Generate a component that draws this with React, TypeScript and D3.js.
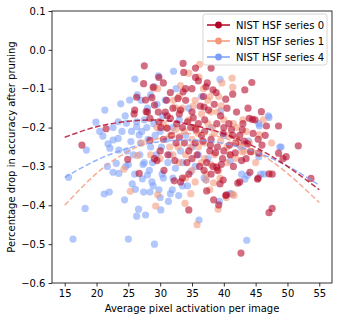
import React, { useRef, useEffect } from "react";
import * as d3 from "d3";

// scatter points [activation, drop]
const series0 = [
  [27.5,-0.041],[17.7,-0.245],[21.5,-0.203],[26.0,-0.155],[25.9,-0.165],[27.7,-0.129],[28.7,-0.123],[27.4,-0.087],
  [28.9,-0.096],[29.8,-0.071],[30.5,-0.085],[29.1,-0.142],[28.0,-0.16],[30.1,-0.2],[31.1,-0.17],[31.6,-0.11],
  [33.6,-0.035],[33.7,-0.058],[33.6,-0.108],[26.3,-0.122],[32.8,-0.125],[35.55,-0.047],[38.0,-0.047],[35.55,-0.071],
  [44.4,-0.084],[43.3,-0.103],[40.3,-0.127],[41.4,-0.114],[37.4,-0.085],[38.3,-0.103],[36.9,-0.147],[45.9,-0.159],
  [44.5,-0.179],[48.6,-0.196],[51.7,-0.247],[49.8,-0.275],[43.7,-0.242],[41.4,-0.22],[42.9,-0.206],[53.7,-0.331],
  [44.1,-0.315],[47.1,-0.319],[45.3,-0.333],[42.2,-0.343],[40.3,-0.375],[38.4,-0.386],[39.2,-0.399],[39.4,-0.345],
  [39.0,-0.31],[38.3,-0.3],[37.3,-0.363],[34.5,-0.412],[42.7,-0.523],[47.1,-0.419],[47.6,-0.408],[33.5,-0.33],
  [32.2,-0.337],[40.4,-0.373],[26.7,-0.318],[29.1,-0.28],[30.6,-0.31],[27.8,-0.159],[29.7,-0.16],[31.6,-0.176],
  [33.2,-0.155],[28.4,-0.176],[29.8,-0.185],[31.1,-0.202],[33.0,-0.225],[28.4,-0.233],[24.9,-0.282],[29.5,-0.285],
  [31.2,-0.27],[32.3,-0.285],[33.2,-0.34],[44.0,-0.176],[44.9,-0.18],[46.7,-0.196],[45.4,-0.23],[48.6,-0.266],
  [49.3,-0.28],[45.5,-0.266],[44.2,-0.262],[43.2,-0.235],[41.9,-0.24],[41.0,-0.27],[39.6,-0.295],[38.9,-0.302],
  [37.3,-0.29],[39.9,-0.335],[45.4,-0.33],[47.6,-0.32],[42.5,-0.34],[34.5,-0.32],[34.0,-0.13],[35.0,-0.16],
  [36.0,-0.19],[37.0,-0.21],[38.0,-0.23],[39.0,-0.25],[40.0,-0.26],[36.5,-0.22],[35.5,-0.24],[34.5,-0.26],
  [33.5,-0.2],[32.0,-0.15],[35.0,-0.1],[36.8,-0.12],[39.5,-0.17],[40.8,-0.19],[42.0,-0.16],[38.5,-0.14],
  [35.8,-0.27],[37.8,-0.26],[41.5,-0.3],[43.5,-0.28],[36.2,-0.3],[34.2,-0.29],[30.5,-0.23],[32.5,-0.24],
  [40.0,-0.2],[42.5,-0.22],[37.0,-0.18],[34.8,-0.2],[38.8,-0.11],[36.0,-0.08],[31.0,-0.13],[30.0,-0.26],[43.0,-0.19],
  [33.0,-0.165],[34.3,-0.185],[35.6,-0.205],[36.7,-0.235],[37.9,-0.245],[38.7,-0.265],[39.8,-0.28],[40.9,-0.245],
  [41.8,-0.265],[42.8,-0.285],[44.6,-0.215],[46.0,-0.245],[35.2,-0.175],[36.3,-0.145],[37.6,-0.155],[38.9,-0.19],
  [39.9,-0.215],[41.2,-0.205],[32.6,-0.19],[31.8,-0.22],[33.8,-0.24],[35.0,-0.28],[36.9,-0.31],[38.0,-0.32],
  [34.0,-0.1],[37.2,-0.095],[40.5,-0.15],[43.8,-0.15],[46.5,-0.22],[30.8,-0.16],
];

const series1 = [
  [29.6,-0.1],[28.96,-0.099],[33.2,-0.092],[32.1,-0.13],[36.2,-0.037],[36.1,-0.07],[41.3,-0.073],[39.7,-0.085],
  [41.4,-0.096],[39.2,-0.12],[37.8,-0.12],[39.6,-0.144],[46.2,-0.18],[45.6,-0.219],[43.2,-0.26],[41.4,-0.371],
  [39.1,-0.41],[40.4,-0.38],[38.4,-0.342],[37.2,-0.32],[33.9,-0.395],[35.8,-0.45],[33.0,-0.29],[34.8,-0.37],
  [25.3,-0.364],[24.3,-0.307],[29.3,-0.402],[29.6,-0.373],[32.4,-0.149],[32.4,-0.205],[31.6,-0.22],[27.1,-0.24],
  [26.4,-0.272],[47.5,-0.24],[44.4,-0.262],[42.9,-0.262],[41.0,-0.27],[41.9,-0.279],[39.2,-0.31],[39.4,-0.33],
  [35.0,-0.31],[37.2,-0.335],[41.6,-0.375],[33.5,-0.15],[34.5,-0.18],[35.5,-0.2],[36.5,-0.165],[37.5,-0.19],
  [38.5,-0.215],[39.5,-0.235],[40.5,-0.25],[42.0,-0.23],[43.5,-0.21],[35.0,-0.23],[36.0,-0.25],[37.0,-0.28],
  [34.0,-0.27],[31.5,-0.25],[30.5,-0.19],[33.0,-0.12],[35.5,-0.13],[38.0,-0.16],[40.0,-0.18],[42.0,-0.2],
  [44.0,-0.24],[36.8,-0.1],[34.5,-0.06],[38.5,-0.27],[40.5,-0.29],[32.0,-0.27],[29.5,-0.2],[28.5,-0.27],
  [37.8,-0.36],[35.5,-0.34],[45.0,-0.29],[33.8,-0.21],[36.0,-0.215],[37.0,-0.24],[38.2,-0.2],[39.0,-0.16],
  [40.8,-0.22],[42.5,-0.245],[34.8,-0.25],[36.5,-0.29],[38.0,-0.295],[31.0,-0.2],[32.8,-0.25],[35.2,-0.145],
  [37.5,-0.13],[41.5,-0.19],[43.0,-0.18],[30.0,-0.28],[34.0,-0.33],
];

const series4 = [
  [15.6,-0.328],[16.3,-0.487],[18.2,-0.408],[18.4,-0.258],[19.9,-0.186],[21.3,-0.155],[20.5,-0.21],[21.0,-0.222],
  [21.8,-0.242],[22.6,-0.232],[23.4,-0.228],[22.6,-0.2],[23.4,-0.185],[23.8,-0.139],[24.5,-0.17],[25.2,-0.129],
  [26.4,-0.116],[27.0,-0.13],[26.0,-0.075],[22.1,-0.253],[24.7,-0.189],[25.5,-0.21],[25.4,-0.236],[26.3,-0.198],
  [26.7,-0.219],[27.1,-0.21],[28.1,-0.23],[26.3,-0.185],[26.9,-0.24],[24.8,-0.26],[23.5,-0.258],[21.2,-0.371],
  [22.0,-0.366],[24.4,-0.386],[25.0,-0.487],[29.1,-0.5],[26.1,-0.359],[26.6,-0.41],[26.3,-0.428],[27.7,-0.425],
  [27.4,-0.366],[28.4,-0.366],[30.1,-0.412],[21.7,-0.3],[22.6,-0.315],[23.5,-0.318],[23.1,-0.292],[25.0,-0.295],
  [26.0,-0.32],[27.2,-0.332],[28.0,-0.322],[28.7,-0.34],[28.9,-0.35],[30.5,-0.33],[27.3,-0.295],[31.3,-0.39],
  [31.6,-0.37],[32.9,-0.375],[29.7,-0.067],[29.1,-0.095],[28.5,-0.116],[30.8,-0.129],[32.1,-0.055],[39.4,-0.076],
  [39.5,-0.157],[47.1,-0.174],[45.6,-0.196],[49.0,-0.25],[42.7,-0.25],[42.8,-0.32],[45.8,-0.32],[43.3,-0.333],
  [41.2,-0.371],[39.3,-0.39],[37.2,-0.335],[36.1,-0.438],[43.6,-0.49],[34.8,-0.313],[34.3,-0.35],[31.9,-0.36],
  [29.4,-0.27],[30.2,-0.25],[28.5,-0.25],[27.5,-0.29],[30.3,-0.32],[32.4,-0.305],[33.5,-0.35],[24.6,-0.3],
  [45.5,-0.19],[47.0,-0.17],[43.9,-0.235],[48.8,-0.25],[45.5,-0.275],[41.0,-0.286],[43.7,-0.323],[46.3,-0.32],
  [36.9,-0.33],[41.0,-0.37],[28.0,-0.15],[29.0,-0.19],[30.0,-0.21],[31.0,-0.23],[32.0,-0.2],[33.0,-0.18],
  [34.0,-0.22],[35.0,-0.25],[36.0,-0.27],[31.5,-0.27],[33.5,-0.29],[35.5,-0.3],[37.5,-0.28],[34.5,-0.15],
  [36.5,-0.12],[38.0,-0.2],[40.0,-0.22],[29.5,-0.14],[32.5,-0.1],[27.5,-0.18],[24.0,-0.21],[25.8,-0.27],
  [28.8,-0.29],[30.0,-0.38],[32.0,-0.33],[27.9,-0.2],[29.2,-0.22],[30.4,-0.17],[31.2,-0.29],[28.3,-0.31],
  [29.8,-0.36],[26.8,-0.27],[25.6,-0.345],[33.2,-0.26],
];

// dashed fit curves
const fitX = [15, 20, 25, 30, 35, 40, 45, 50, 55];
const fit0 = [-0.225, -0.198, -0.184, -0.181, -0.193, -0.216, -0.251, -0.3, -0.36];
const fit1 = [-0.4, -0.318, -0.261, -0.227, -0.215, -0.227, -0.261, -0.318, -0.393];
const fit4 = [-0.328, -0.284, -0.253, -0.236, -0.232, -0.241, -0.263, -0.299, -0.348];

const names = ["NIST HSF series 0", "NIST HSF series 1", "NIST HSF series 4"];
const colors = ["#b40426", "#f4987a", "#7b9ff9"];
const xTicks = [15, 20, 25, 30, 35, 40, 45, 50, 55];
const yTicks = [0.1, 0.0, -0.1, -0.2, -0.3, -0.4, -0.5, -0.6];

const App = () => {
  const ref = useRef(null);
  const width = 338;
  const height = 321;
  const margin = { top: 11, right: 6, bottom: 38, left: 52 };

  useEffect(() => {
    const svg = d3.select(ref.current);
    svg.selectAll("*").remove();
    const font = "DejaVu Sans, sans-serif";

    const x = d3.scaleLinear().domain([13, 57]).range([margin.left, width - margin.right]);
    const y = d3.scaleLinear().domain([-0.6, 0.1]).range([height - margin.bottom, margin.top]);

    const plot = svg.append("g");
    const scatter = [series4, series1, series0];
    const scatterColors = [colors[2], colors[1], colors[0]];
    scatter.forEach((pts, i) => {
      plot
        .append("g")
        .selectAll("circle")
        .data(pts)
        .enter()
        .append("circle")
        .attr("cx", (d) => x(d[0]))
        .attr("cy", (d) => y(d[1]))
        .attr("r", 3.6)
        .attr("fill", scatterColors[i])
        .attr("fill-opacity", 0.58);
    });

    const line = d3
      .line()
      .x((d) => x(d[0]))
      .y((d) => y(d[1]))
      .curve(d3.curveNatural);
    [fit4, fit1, fit0].forEach((f, i) => {
      plot
        .append("path")
        .attr("d", line(fitX.map((v, j) => [v, f[j]])))
        .attr("fill", "none")
        .attr("stroke", scatterColors[i])
        .attr("stroke-width", 1.5)
        .attr("stroke-dasharray", "5.5,2.5")
        .attr("opacity", 0.8);
    });

    // axes
    const xAxis = d3.axisBottom(x).tickValues(xTicks).tickSize(3.5).tickPadding(3).tickFormat(d3.format("d"));
    const yAxis = d3
      .axisLeft(y)
      .tickValues(yTicks)
      .tickSize(3.5)
      .tickPadding(3)
      .tickFormat((d) => d3.format(".1f")(d).replace("-", "\u2212"));

    const gx = svg.append("g").attr("transform", `translate(0,${height - margin.bottom})`).call(xAxis);
    const gy = svg.append("g").attr("transform", `translate(${margin.left},0)`).call(yAxis);
    [gx, gy].forEach((g) => {
      g.select(".domain").remove();
      g.selectAll("line").attr("stroke", "#000").attr("stroke-width", 0.8);
      g.selectAll("text").attr("font-family", font).attr("font-size", 10).attr("fill", "#000");
    });

    svg
      .append("rect")
      .attr("x", margin.left)
      .attr("y", margin.top)
      .attr("width", width - margin.left - margin.right)
      .attr("height", height - margin.top - margin.bottom)
      .attr("fill", "none")
      .attr("stroke", "#000")
      .attr("stroke-width", 0.8);

    svg
      .append("text")
      .attr("x", (margin.left + width - margin.right) / 2)
      .attr("y", 312)
      .attr("text-anchor", "middle")
      .attr("font-family", font)
      .attr("font-size", 10)
      .text("Average pixel activation per image");

    svg
      .append("text")
      .attr("transform", `translate(15,${(margin.top + height - margin.bottom) / 2}) rotate(-90)`)
      .attr("text-anchor", "middle")
      .attr("font-family", font)
      .attr("font-size", 10)
      .text("Percentage drop in accuracy after pruning");

    // legend
    const lg = svg.append("g");
    lg.append("rect")
      .attr("x", 203)
      .attr("y", 14)
      .attr("width", 124)
      .attr("height", 51)
      .attr("rx", 2.5)
      .attr("fill", "#fff")
      .attr("fill-opacity", 0.8)
      .attr("stroke", "#ccc")
      .attr("stroke-width", 0.8);
    names.forEach((n, i) => {
      const cy = 25 + i * 16;
      lg.append("line")
        .attr("x1", 207)
        .attr("x2", 230)
        .attr("y1", cy)
        .attr("y2", cy)
        .attr("stroke", colors[i])
        .attr("stroke-width", 1.5);
      lg.append("circle").attr("cx", 218.5).attr("cy", cy).attr("r", 3.4).attr("fill", colors[i]);
      lg.append("text")
        .attr("x", 236)
        .attr("y", cy)
        .attr("dy", "0.35em")
        .attr("font-family", font)
        .attr("font-size", 10)
        .text(n);
    });
  }, []);

  return (
    <svg
      ref={ref}
      width={width}
      height={height}
      style={{ position: "absolute", left: 0, top: 0, background: "#fff" }}
    />
  );
};

export default App;
